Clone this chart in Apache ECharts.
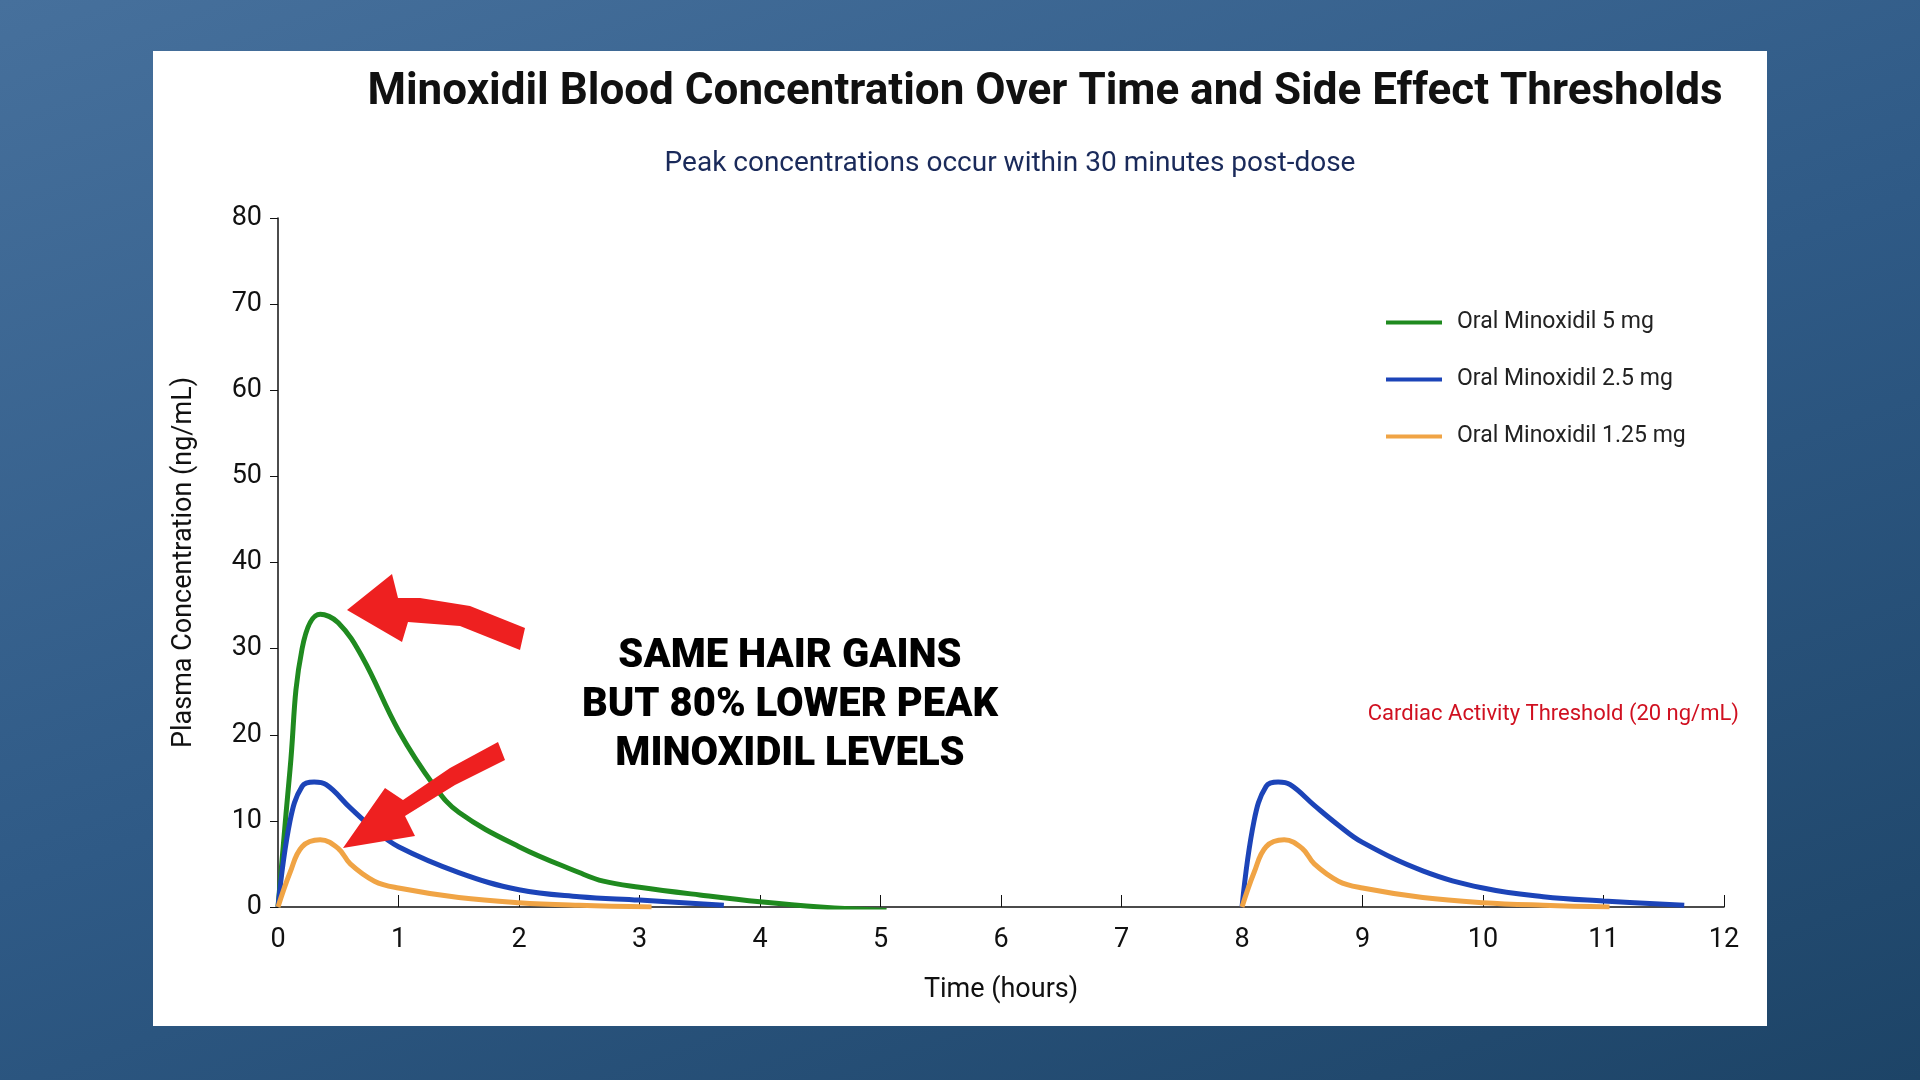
<!DOCTYPE html>
<html>
<head>
<meta charset="utf-8">
<script src="https://cdn.jsdelivr.net/npm/echarts@6/dist/echarts.min.js"></script>
<style>
html, body { margin: 0; width: 1920px; height: 1080px; overflow: hidden;
  background: linear-gradient(160deg, #46709c 0%, #2f5a86 50%, #1d4467 100%); }
#panel { position: absolute; left: 153px; top: 51px; width: 1614px; height: 975px; background: #fff; }
#graphics { position: absolute; left: 0; top: 0; width: 1920px; height: 1080px; }
</style>
</head>
<body>
<div id="panel"></div>
<div id="graphics"></div>
<script>
// dose curves: [hours, ng/mL], null splits first and second dose
const green5 = [[0,0],[0.1,16],[0.2,30],[0.35,34],[0.5,33],[0.7,29],[1.0,20.5],[1.3,14],[1.5,11],[2.0,7],[2.5,4],[2.7,3],[3.0,2.3],[3.5,1.4],[4.0,0.6],[4.5,0],[5.05,-0.4]];
const blue25 = [[0,0],[0.1,10],[0.2,14],[0.3,14.5],[0.4,14.2],[0.6,11.5],[0.8,9],[1.0,7],[1.5,4],[2.0,2],[2.5,1.2],[3.0,0.8],[3.7,0.2],[null,null],
  [8,0],[8.1,10],[8.2,14],[8.3,14.5],[8.4,14.2],[8.6,11.8],[8.8,9.5],[9.0,7.5],[9.5,4.2],[10.0,2.2],[10.5,1.2],[11.0,0.7],[11.67,0.2]];
const orange125 = [[0,0],[0.1,4],[0.2,7],[0.35,7.8],[0.5,6.8],[0.6,5],[0.8,3],[1.0,2.2],[1.5,1.1],[2.0,0.5],[2.5,0.2],[3.1,0],[null,null],
  [8,0],[8.1,4],[8.2,7],[8.35,7.8],[8.5,6.8],[8.6,5],[8.8,3],[9.0,2.2],[9.5,1.1],[10.0,0.5],[10.5,0.2],[11.05,0]];
const threshold = 20;

var myChart = echarts.init(document.getElementById('graphics'));
var font = 'Roboto';
function line(name, data, color) {
  return { name: name, type: 'line', data: data, smooth: 0.4, showSymbol: false, connectNulls: false,
    lineStyle: { color: color, width: 5 }, itemStyle: { color: color } };
}
var series = [
  line('Oral Minoxidil 5 mg', green5, '#1f8a1f'),
  line('Oral Minoxidil 2.5 mg', blue25, '#1c44b8'),
  line('Oral Minoxidil 1.25 mg', orange125, '#f0a445')
];
series[0].markLine = {
  symbol: 'none', silent: true,
  lineStyle: { color: '#e01010', width: 4, type: 'solid' },
  label: { show: false },
  data: [[{ coord: [-0.07, threshold] }, { coord: [12.12, threshold] }]]
};

var option = {
  animation: false,
  title: [
    { text: 'Minoxidil Blood Concentration Over Time and Side Effect Thresholds', left: 1040, top: 66, textAlign: 'center',
      textStyle: { fontFamily: font, fontSize: 44, fontWeight: 'bold', color: '#111' } },
    { text: 'Peak concentrations occur within 30 minutes post-dose', left: 1005, top: 145, textAlign: 'center',
      textStyle: { fontFamily: font, fontSize: 28, fontWeight: 'normal', color: '#1a2a5a' } }
  ],
  legend: {
    orient: 'vertical', left: 1381, top: 306, itemGap: 34, itemWidth: 56, itemHeight: 4,
    icon: 'rect', textStyle: { fontFamily: font, fontSize: 23, color: '#222', padding: [0, 0, 0, 10] },
    data: series.map(function (s) { return s.name; })
  },
  grid: { left: 278, right: 196, top: 218, bottom: 173 },
  xAxis: {
    type: 'value', min: 0, max: 12, interval: 1,
    name: 'Time (hours)', nameLocation: 'middle', nameGap: 70,
    nameTextStyle: { fontFamily: font, fontSize: 27, color: '#111' },
    axisLine: { lineStyle: { color: '#111', width: 1.5 } },
    axisTick: { show: true, inside: true, length: 12, lineStyle: { color: '#111' } },
    axisLabel: { fontFamily: font, fontSize: 27, color: '#111', margin: 20 },
    splitLine: { show: false }
  },
  yAxis: {
    type: 'value', min: 0, max: 80, interval: 10,
    name: 'Plasma Concentration (ng/mL)', nameLocation: 'middle', nameGap: 80,
    nameTextStyle: { fontFamily: font, fontSize: 27, color: '#111' },
    axisLine: { show: true, lineStyle: { color: '#111', width: 1.5 } },
    axisTick: { show: true, length: 8, lineStyle: { color: '#111' } },
    axisLabel: { fontFamily: font, fontSize: 27, color: '#111', margin: 16 },
    splitLine: { show: false }
  },
  series: series,
  graphic: [
    { type: 'text', x: 1739, y: 714, z: 10,
      style: { text: 'Cardiac Activity Threshold (20 ng/mL)', align: 'right', verticalAlign: 'middle', fontFamily: font, fontSize: 22, fill: '#d01020' } },
    { type: 'rect', shape: { x: 535, y: 625, width: 513, height: 150 }, z: 9, style: { fill: '#fff' } },
    { type: 'text', x: 790, y: 706, z: 10,
      style: { text: 'SAME HAIR GAINS\nBUT 80% LOWER PEAK\nMINOXIDIL LEVELS', align: 'center', verticalAlign: 'middle',
        lineHeight: 49, fontFamily: font, fontSize: 40, fontWeight: 900, fill: '#000' } },
    // upper arrow toward green peak
    { type: 'polygon', z: 11, shape: { points: [[525,628],[470,606],[420,598],[398,598],[392,574],[347,610],[402,642],[408,622],[460,626],[520,650]] },
      style: { fill: '#ee2020' } },
    // lower arrow toward orange peak
    { type: 'polygon', z: 11, shape: { points: [[498,742],[450,768],[403,800],[385,788],[343,848],[415,836],[405,816],[455,785],[505,760]] },
      style: { fill: '#ee2020' } }
  ]
};
myChart.setOption(option);
</script>
</body>
</html>
